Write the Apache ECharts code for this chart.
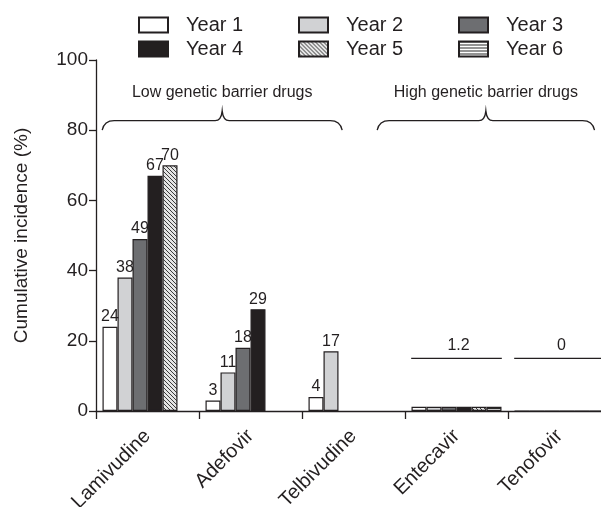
<!DOCTYPE html>
<html>
<head>
<meta charset="utf-8">
<script src="https://cdn.jsdelivr.net/npm/echarts@6/dist/echarts.min.js"></script>
<style>
  html, body { margin: 0; padding: 0; background: #ffffff; }
  #chart { width: 601px; height: 507px; }
</style>
</head>
<body>
<div id="chart"></div>
<script>
// Cumulative incidence of resistance by drug and treatment year
const categories = ['Lamivudine', 'Adefovir', 'Telbivudine', 'Entecavir', 'Tenofovir'];
const yearNames = ['Year 1', 'Year 2', 'Year 3', 'Year 4', 'Year 5', 'Year 6'];
const year1 = [24, 3, 4, 1.2, 0];
const year2 = [38, 11, 17, 1.2, 0];
const year3 = [49, 18, null, 1.2, 0];
const year4 = [67, 29, null, 1.2, 0];
const year5 = [70, null, null, 1.2, 0];
const year6 = [null, null, null, 1.2, 0];
const yearValues = [year1, year2, year3, year4, year5, year6];
// drugs whose bars carry their own value labels
const labelledBars = [true, true, true, false, false];
// drugs summarised by a single value over a bracket line: [category index, value]
const summaryItems = [[3, 1.2], [4, 0]];
const summaryLevel = 15;
// drug groups
const groupNames = ['Low genetic barrier drugs', 'High genetic barrier drugs'];
const yTicks = [0, 20, 40, 60, 80, 100];

const FONT = "'Liberation Sans', Arial, Helvetica, sans-serif";
const INK = '#231f20';

function hatchPattern() {
  const c = document.createElement('canvas');
  c.width = 4; c.height = 4;
  const g = c.getContext('2d');
  g.fillStyle = '#e4e4e4';
  g.fillRect(0, 0, 4, 4);
  g.strokeStyle = '#3c3c3c';
  g.lineWidth = 1;
  g.beginPath();
  g.moveTo(-1, -1); g.lineTo(5, 5);
  g.moveTo(-1, 3); g.lineTo(1, 5);
  g.moveTo(3, -1); g.lineTo(5, 1);
  g.stroke();
  return { image: c, repeat: 'repeat' };
}
function stripePattern() {
  const c = document.createElement('canvas');
  c.width = 4; c.height = 3;
  const g = c.getContext('2d');
  g.fillStyle = '#ffffff';
  g.fillRect(0, 0, 4, 3);
  g.fillStyle = '#2a2a2a';
  g.fillRect(0, 0, 4, 1);
  return { image: c, repeat: 'repeat' };
}

const fills = ['#ffffff', '#d1d2d4', '#6d6e71', INK, hatchPattern(), stripePattern()];

const chart = echarts.init(document.getElementById('chart'), null, { renderer: 'canvas' });

const barSeries = yearNames.map((name, i) => ({
  name: name,
  type: 'bar',
  barWidth: 15,
  barGap: '0%',
  itemStyle: { color: fills[i], borderColor: INK, borderWidth: 1.2 },
  label: {
    show: true,
    position: 'top',
    distance: 2,
    fontFamily: FONT,
    fontSize: 16,
    color: INK
  },
  data: yearValues[i].map((v, ci) => ({
    value: v,
    label: { show: labelledBars[ci] && v !== null }
  }))
}));

// bracket line with a value above it, spanning one drug's bar group
const summarySeries = {
  type: 'custom',
  silent: true,
  z: 5,
  data: summaryItems.map(d => [d[0], summaryLevel, d[1]]),
  renderItem: function (params, api) {
    const p = api.coord([api.value(0), api.value(1)]);
    const bw = api.size([1, 0])[0];
    const x0 = p[0] - bw * 0.44, x1 = p[0] + bw * 0.44;
    return {
      type: 'group',
      children: [
        { type: 'line', shape: { x1: x0, y1: p[1], x2: x1, y2: p[1] },
          style: { stroke: INK, lineWidth: 1.3 } },
        { type: 'text', x: p[0] + 2, y: p[1] - 5,
          style: { text: String(api.value(2)), fontFamily: FONT, fontSize: 16,
                   fill: INK, align: 'center', verticalAlign: 'bottom' } }
      ]
    };
  }
};

// curly braces grouping the drugs, with the group names above
const braceSpans = [[-0.44, 1.89], [2.23, 4.34]];
const braceSeries = {
  type: 'custom',
  silent: true,
  z: 5,
  data: groupNames.map((n, i) => [i]),
  renderItem: function (params, api) {
    const i = api.value(0);
    const c0 = api.coord([0, 0])[0];
    const bw = api.size([1, 0])[0];
    const xa = c0 + braceSpans[i][0] * bw;
    const xb = c0 + braceSpans[i][1] * bw;
    const xm = (xa + xb) / 2;
    const yEnd = api.coord([0, 80])[1];
    const yBar = api.coord([0, 82.7])[1];
    const yTip = api.coord([0, 85.5])[1];
    const yText = api.coord([0, 88.3])[1];
    const d = 'M' + xa + ',' + yEnd +
      ' Q' + (xa + 2) + ',' + yBar + ' ' + (xa + 12) + ',' + yBar +
      ' L' + (xm - 7) + ',' + yBar +
      ' Q' + (xm - 1) + ',' + yBar + ' ' + xm + ',' + yTip +
      ' Q' + (xm + 1) + ',' + yBar + ' ' + (xm + 7) + ',' + yBar +
      ' L' + (xb - 12) + ',' + yBar +
      ' Q' + (xb - 2) + ',' + yBar + ' ' + xb + ',' + yEnd;
    return {
      type: 'group',
      children: [
        { type: 'path', shape: { pathData: d },
          style: { fill: null, stroke: INK, lineWidth: 1.3 } },
        { type: 'text', x: xm, y: yText,
          style: { text: groupNames[i], fontFamily: FONT, fontSize: 16,
                   fill: INK, align: 'center', verticalAlign: 'bottom' } }
      ]
    };
  }
};

// one legend entry per year, laid out in two rows of three
const legendCols = [138, 298, 458];
const legendRows = [15, 39];
const legends = yearNames.map((name, i) => ({
  data: [name],
  left: legendCols[i % 3],
  top: legendRows[Math.floor(i / 3)],
  padding: 0,
  itemWidth: 29,
  itemHeight: 15,
  selectedMode: false,
  icon: 'rect',
  textStyle: { fontFamily: FONT, fontSize: 20, color: INK, padding: [0, 0, 0, 13] }
}));

chart.setOption({
  animation: false,
  backgroundColor: '#ffffff',
  legend: legends,
  // the category axis runs on past the right edge of the canvas
  grid: { left: 96, top: 60, width: 515, height: 351, containLabel: false, outerBoundsMode: 'none' },
  xAxis: {
    type: 'category',
    data: categories,
    axisLine: { lineStyle: { color: INK, width: 1.3 } },
    axisTick: { show: true, length: 8, alignWithLabel: false, lineStyle: { color: INK, width: 1.3 } },
    axisLabel: { rotate: 45, margin: 22, fontFamily: FONT, fontSize: 20, color: INK, interval: 0 },
    splitLine: { show: false }
  },
  yAxis: {
    type: 'value',
    min: yTicks[0],
    max: yTicks[yTicks.length - 1],
    interval: yTicks[1] - yTicks[0],
    name: 'Cumulative incidence (%)',
    nameLocation: 'middle',
    nameGap: 65,
    nameTextStyle: { fontFamily: FONT, fontSize: 19, color: INK },
    axisLine: { show: true, lineStyle: { color: INK, width: 1.3 } },
    axisTick: { show: true, length: 7, lineStyle: { color: INK, width: 1.3 } },
    axisLabel: { margin: 8, fontFamily: FONT, fontSize: 19, color: INK },
    splitLine: { show: false }
  },
  series: barSeries.concat([summarySeries, braceSeries])
});
</script>
</body>
</html>
